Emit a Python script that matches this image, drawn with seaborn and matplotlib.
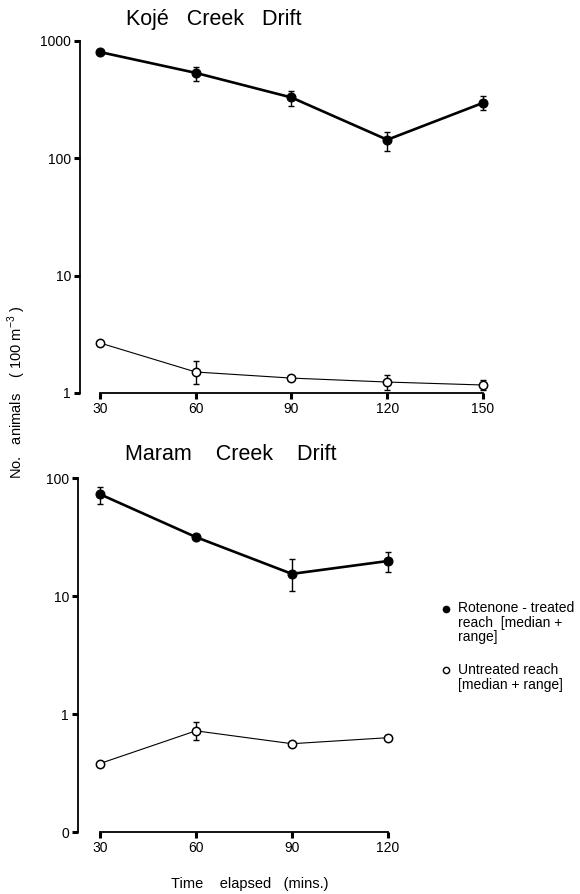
import matplotlib
matplotlib.use("Agg")
import matplotlib.pyplot as plt
import matplotlib.ticker as mticker
import numpy as np
import pandas as pd
import seaborn as sns

# ---- data ----
koje_time = [30, 60, 90, 120, 150]
koje_treated = [805, 535, 330, 144, 297]
koje_treated_lo = [775, 460, 280, 116, 258]
koje_treated_hi = [835, 600, 375, 168, 340]
koje_untreated = [2.67, 1.51, 1.34, 1.24, 1.17]
koje_untreated_lo = [2.67, 1.19, 1.34, 1.06, 1.06]
koje_untreated_hi = [2.67, 1.87, 1.34, 1.42, 1.29]

maram_time = [30, 60, 90, 120]
maram_treated = [73, 31.6, 15.4, 19.8]
maram_treated_lo = [60, 31.6, 11, 16]
maram_treated_hi = [84, 31.6, 20.6, 23.5]
maram_untreated = [0.38, 0.72, 0.56, 0.63]
maram_untreated_lo = [0.38, 0.60, 0.56, 0.60]
maram_untreated_hi = [0.38, 0.855, 0.56, 0.66]

koje_yticks = [1, 10, 100, 1000]
koje_yticklabels = ["1", "10", "100", "1000"]
maram_yticks = [0.1, 1, 10, 100]
maram_yticklabels = ["0", "1", "10", "100"]

title_koje = "Kojé   Creek   Drift"
title_maram = "Maram    Creek    Drift"
ylabel = "No.   animals    ( 100 m$^{-3}$ )"
xlabel = "Time    elapsed   (mins.)"
legend_treated = "Rotenone - treated\nreach  [median +\nrange]"
legend_untreated = "Untreated reach\n[median + range]"

sns.set_theme(style="white")
plt.rcParams["font.family"] = ["Liberation Sans", "DejaVu Sans"]
plt.rcParams["mathtext.fontset"] = "custom"
plt.rcParams["mathtext.rm"] = "Liberation Sans"
for k in ["text.color", "axes.labelcolor", "xtick.color", "ytick.color"]:
    plt.rcParams[k] = "black"

fig = plt.figure(figsize=(5.8, 8.94), dpi=100)
W, H = 580, 894


def ax_rect(l, t, r, b):
    return [l / W, 1 - b / H, (r - l) / W, (b - t) / H]


ax1 = fig.add_axes(ax_rect(80, 41, 499, 393))
ax2 = fig.add_axes(ax_rect(78, 478, 404, 832))


def draw(ax, t, tr, trlo, trhi, un, unlo, unhi):
    df = pd.DataFrame({"t": t, "tr": tr, "un": un})
    sns.lineplot(data=df, x="t", y="tr", ax=ax, color="black", lw=1.9,
                 marker="o", markersize=6.5, markeredgecolor="black",
                 markerfacecolor="black", clip_on=False, zorder=3)
    sns.lineplot(data=df, x="t", y="un", ax=ax, color="black", lw=0.8,
                 marker="o", markersize=6, markeredgecolor="black",
                 markeredgewidth=1.1, markerfacecolor="white",
                 clip_on=False, zorder=3)
    tr = np.array(tr); un = np.array(un)
    ax.errorbar(t, tr, yerr=[tr - np.array(trlo), np.array(trhi) - tr],
                fmt="none", ecolor="black", elinewidth=1.0, capsize=2.5,
                capthick=1.0, clip_on=False, zorder=2)
    ax.errorbar(t, un, yerr=[un - np.array(unlo), np.array(unhi) - un],
                fmt="none", ecolor="black", elinewidth=1.0, capsize=2.5,
                capthick=1.0, clip_on=False, zorder=2)
    ax.set_yscale("log")
    ax.set_xlabel("")
    ax.set_ylabel("")
    ax.set_xticks(t)
    ax.set_xticklabels([str(v) for v in t], fontsize=10)
    ax.yaxis.set_minor_locator(mticker.NullLocator())
    for s in ["top", "right"]:
        ax.spines[s].set_visible(False)
    for s in ["left", "bottom"]:
        ax.spines[s].set_color("black")
        ax.spines[s].set_linewidth(1.3)
    ax.spines["bottom"].set_bounds(t[0], t[-1])
    ax.tick_params(axis="both", which="major", direction="out",
                   length=4.5, width=2.2, color="black", labelsize=10,
                   labelcolor="black", pad=2, left=True, bottom=True)
    ax.grid(False)
    ax.set_facecolor("white")


draw(ax1, koje_time, koje_treated, koje_treated_lo, koje_treated_hi,
     koje_untreated, koje_untreated_lo, koje_untreated_hi)
ax1.set_xlim(23.75, 155)
ax1.set_ylim(1, 1000)
ax1.set_yticks(koje_yticks)
ax1.set_yticklabels(koje_yticklabels)

draw(ax2, maram_time, maram_treated, maram_treated_lo, maram_treated_hi,
     maram_untreated, maram_untreated_lo, maram_untreated_hi)
ax2.set_xlim(23.2, 125)
ax2.set_ylim(0.1, 100)
ax2.set_yticks(maram_yticks)
ax2.set_yticklabels(maram_yticklabels)

fig.text(214 / W, 1 - 19 / H, title_koje, fontsize=15.5, ha="center", va="center")
fig.text(231 / W, 1 - 455 / H, title_maram, fontsize=15.5, ha="center", va="center")
fig.text(17 / W, 1 - 392 / H, ylabel, fontsize=10.5, rotation=90,
         ha="center", va="center")
fig.text(250 / W, 1 - 884 / H, xlabel, fontsize=10.5, ha="center", va="center")

# legend as text
fig.text(458 / W, 1 - 601 / H, legend_treated, fontsize=10, ha="left",
         va="top", linespacing=1.05)
fig.text(458 / W, 1 - 663 / H, legend_untreated, fontsize=10, ha="left",
         va="top", linespacing=1.05)
fig.lines.append(plt.Line2D([446 / W], [1 - 609 / H], marker="o", markersize=4.5,
                            color="black", transform=fig.transFigure))
fig.lines.append(plt.Line2D([446 / W], [1 - 670 / H], marker="o", markersize=4.5,
                            markerfacecolor="white", markeredgecolor="black",
                            markeredgewidth=1.0, color="black",
                            transform=fig.transFigure))

fig.savefig("out.png", dpi=100, facecolor="white")
